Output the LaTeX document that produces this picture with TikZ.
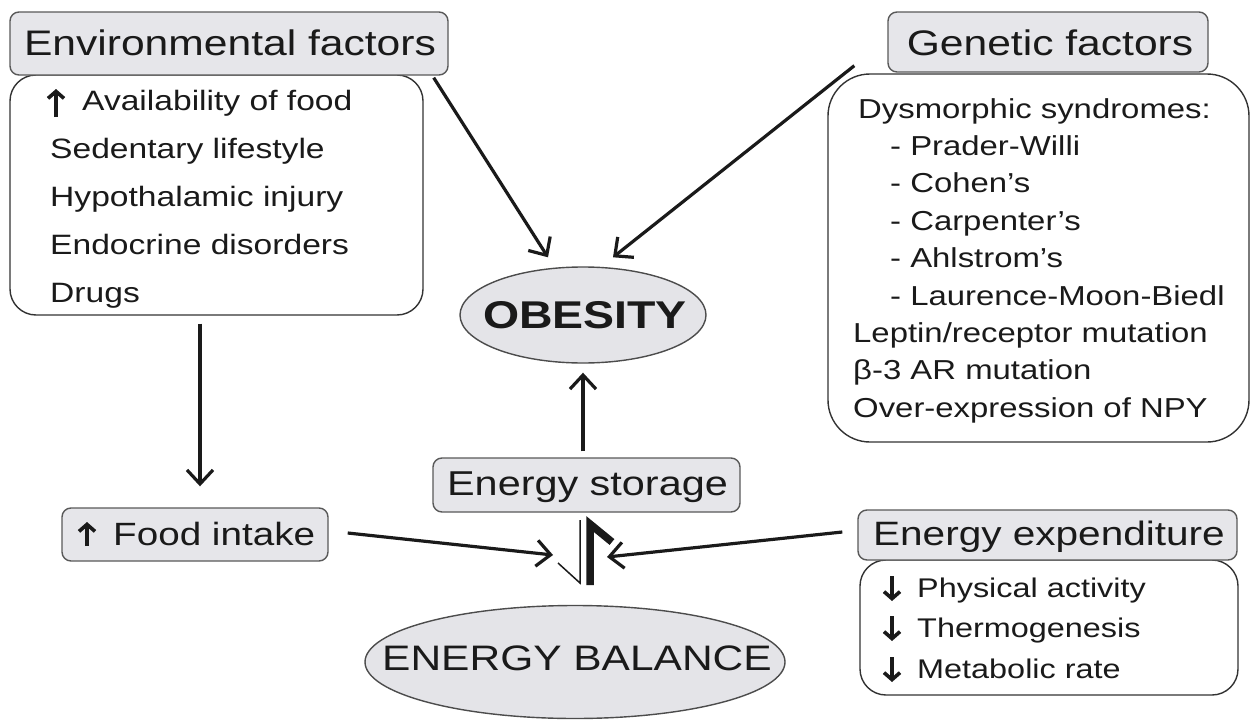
\documentclass[tikz,border=0pt]{standalone}
\usepackage{fontspec}
\setmainfont{Liberation Sans}[FakeStretch=1.2]
\usetikzlibrary{arrows.meta,calc,shapes.geometric}
\definecolor{boxgray}{HTML}{E6E6EA}
\definecolor{ellgray}{HTML}{E4E4E8}
\definecolor{ink}{HTML}{1A1A1A}
\newcommand{\fs}[1]{\fontsize{#1}{#1}\selectfont}
\begin{document}
\begin{tikzpicture}[x=1pt,y=-1pt,
  titlebox/.style={draw=black!65, fill=boxgray, rounded corners=9pt, line width=1.4pt, inner sep=0pt},
  listbox/.style={draw=black!80, fill=white, rounded corners=26pt, line width=1.4pt, inner sep=0pt},
  ellbox/.style={ellipse, draw=black!70, fill=ellgray, line width=1.4pt, inner sep=0pt},
  title/.style={anchor=base, text=ink, inner sep=0pt, font=\fs{35.5}},
  item/.style={anchor=base west, text=ink, inner sep=0pt, font=\fs{28}},
  gitem/.style={anchor=base west, text=ink, inner sep=0pt, font=\fs{27.4}},
  eitem/.style={anchor=base west, text=ink, inner sep=0pt, font=\fs{27}},
  arr/.style={draw=ink, line width=3.2pt, -{Straight Barb[length=14pt,width=26pt]}},
  glyph/.style={draw=ink, line width=3.6pt, -{Straight Barb[length=7pt,width=16pt]}},
]
\useasboundingbox (0,0) rectangle (1251,720);

% list boxes (under titles)
\node[listbox, minimum width=413pt, minimum height=240pt] (envL) at (216.5,195) {};
\node[listbox, rounded corners=42pt, minimum width=421pt, minimum height=368pt] (genL) at (1038.5,258) {};
\node[listbox, minimum width=378pt, minimum height=135pt] (expL) at (1049,627.5) {};

% title boxes
\node[titlebox, minimum width=438pt, minimum height=63pt] (envT) at (229,43.5) {};
\node[titlebox, minimum width=320pt, minimum height=60pt] (genT) at (1048,42) {};
\node[titlebox, minimum width=379pt, minimum height=50pt] (expT) at (1047.5,535) {};
\node[titlebox, minimum width=266pt, minimum height=53pt] (food) at (195,534.5) {};
\node[titlebox, minimum width=307pt, minimum height=54pt] (stor) at (586.5,485) {};

% ellipses
\node[ellbox, minimum width=246pt, minimum height=96pt] (obes) at (583,315) {};
\node[ellbox, minimum width=420pt, minimum height=113pt] (bal) at (575,662) {};

% title texts
\node[title] (tEnv) at (230,55) {Environmental factors};
\node[title] (tGen) at (1050,55) {Genetic factors};
\node[title, font=\fs{34.5}] (tStor) at (587.5,495) {Energy storage};
\node[title, font=\fs{33.8}] (tExp) at (1049,545) {Energy expenditure};
\node[anchor=base west, inner sep=0pt, text=ink, font=\fs{32.2}] (tFood) at (80,545) {\hspace*{33pt}Food intake};
\node[title, font=\bfseries\fs{38.7}] (tObes) at (585,328) {OBESITY};
\node[title, font=\fs{35.4}] (tBal) at (577,670) {ENERGY BALANCE};

% environmental list
\node[item] (e1) at (48,110) {\hspace*{34pt}Availability of food};
\node[item] (e2) at (50,158) {Sedentary lifestyle};
\node[item] (e3) at (50,206) {Hypothalamic injury};
\node[item] (e4) at (50,254) {Endocrine disorders};
\node[item] (e5) at (50,302) {Drugs};

% genetic list
\node[gitem] (g1) at (858,118) {Dysmorphic syndromes:};
\node[gitem] (g2) at (890,155.4) {- Prader-Willi};
\node[gitem] (g3) at (890,192.8) {- Cohen’s};
\node[gitem] (g4) at (890,230.2) {- Carpenter’s};
\node[gitem] (g5) at (890,267.6) {- Ahlstrom’s};
\node[gitem] (g6) at (890,305) {- Laurence-Moon-Biedl};
\node[gitem] (g7) at (853,342.4) {Leptin/receptor mutation};
\node[gitem] (g8) at (853,379.8) {β-3 AR mutation};
\node[gitem] (g9) at (853,417.2) {Over-expression of NPY};

% expenditure list
\node[eitem] (x1) at (882,597) {\hspace*{35pt}Physical activity};
\node[eitem] (x2) at (882,637) {\hspace*{35pt}Thermogenesis};
\node[eitem] (x3) at (882,678) {\hspace*{35pt}Metabolic rate};

% up / down arrow signs
\draw[glyph] ($(e1.base west)+(8,7)$) -- ($(e1.base west)+(8,-21)$);
\draw[glyph] ($(tFood.base west)+(7,1)$) -- ($(tFood.base west)+(7,-23)$);
\draw[glyph] ($(x1.base west)+(10,-21)$) -- ($(x1.base west)+(10,4)$);
\draw[glyph] ($(x2.base west)+(10,-21)$) -- ($(x2.base west)+(10,4)$);
\draw[glyph] ($(x3.base west)+(10,-21)$) -- ($(x3.base west)+(10,4)$);

% equilibrium symbol
\coordinate (eq) at (585,552);
\draw[ink, line width=1.5pt] ($(eq)+(-5,-32)$) -- ($(eq)+(-5,31)$) -- ($(eq)+(-27,11)$);
\draw[ink, line width=7.5pt, line join=miter] ($(eq)+(5,33)$) -- ($(eq)+(5,-28)$) -- ($(eq)+(27,-10)$);

% connectors
\draw[arr] ($(envT.south east)+(-15,2)$) -- ($(obes.north)+(-35,-9)$);
\draw[arr] ($(genT.south west)+(-33,-7)$) -- ($(obes.north)+(30,-9)$);
\draw[arr] ($(stor.north)+(-3.5,-6)$) -- ($(obes.south)+(0,9)$);
\draw[arr] ($(envL.south)+(-16.5,8)$) -- ($(food.north)+(5,-21)$);
\draw[arr] ($(food.east)+(19,-1.5)$) -- ($(eq)+(-32,3)$);
\draw[arr] ($(expT.west)+(-15,-3)$) -- ($(eq)+(22,5)$);
\end{tikzpicture}
\end{document}
